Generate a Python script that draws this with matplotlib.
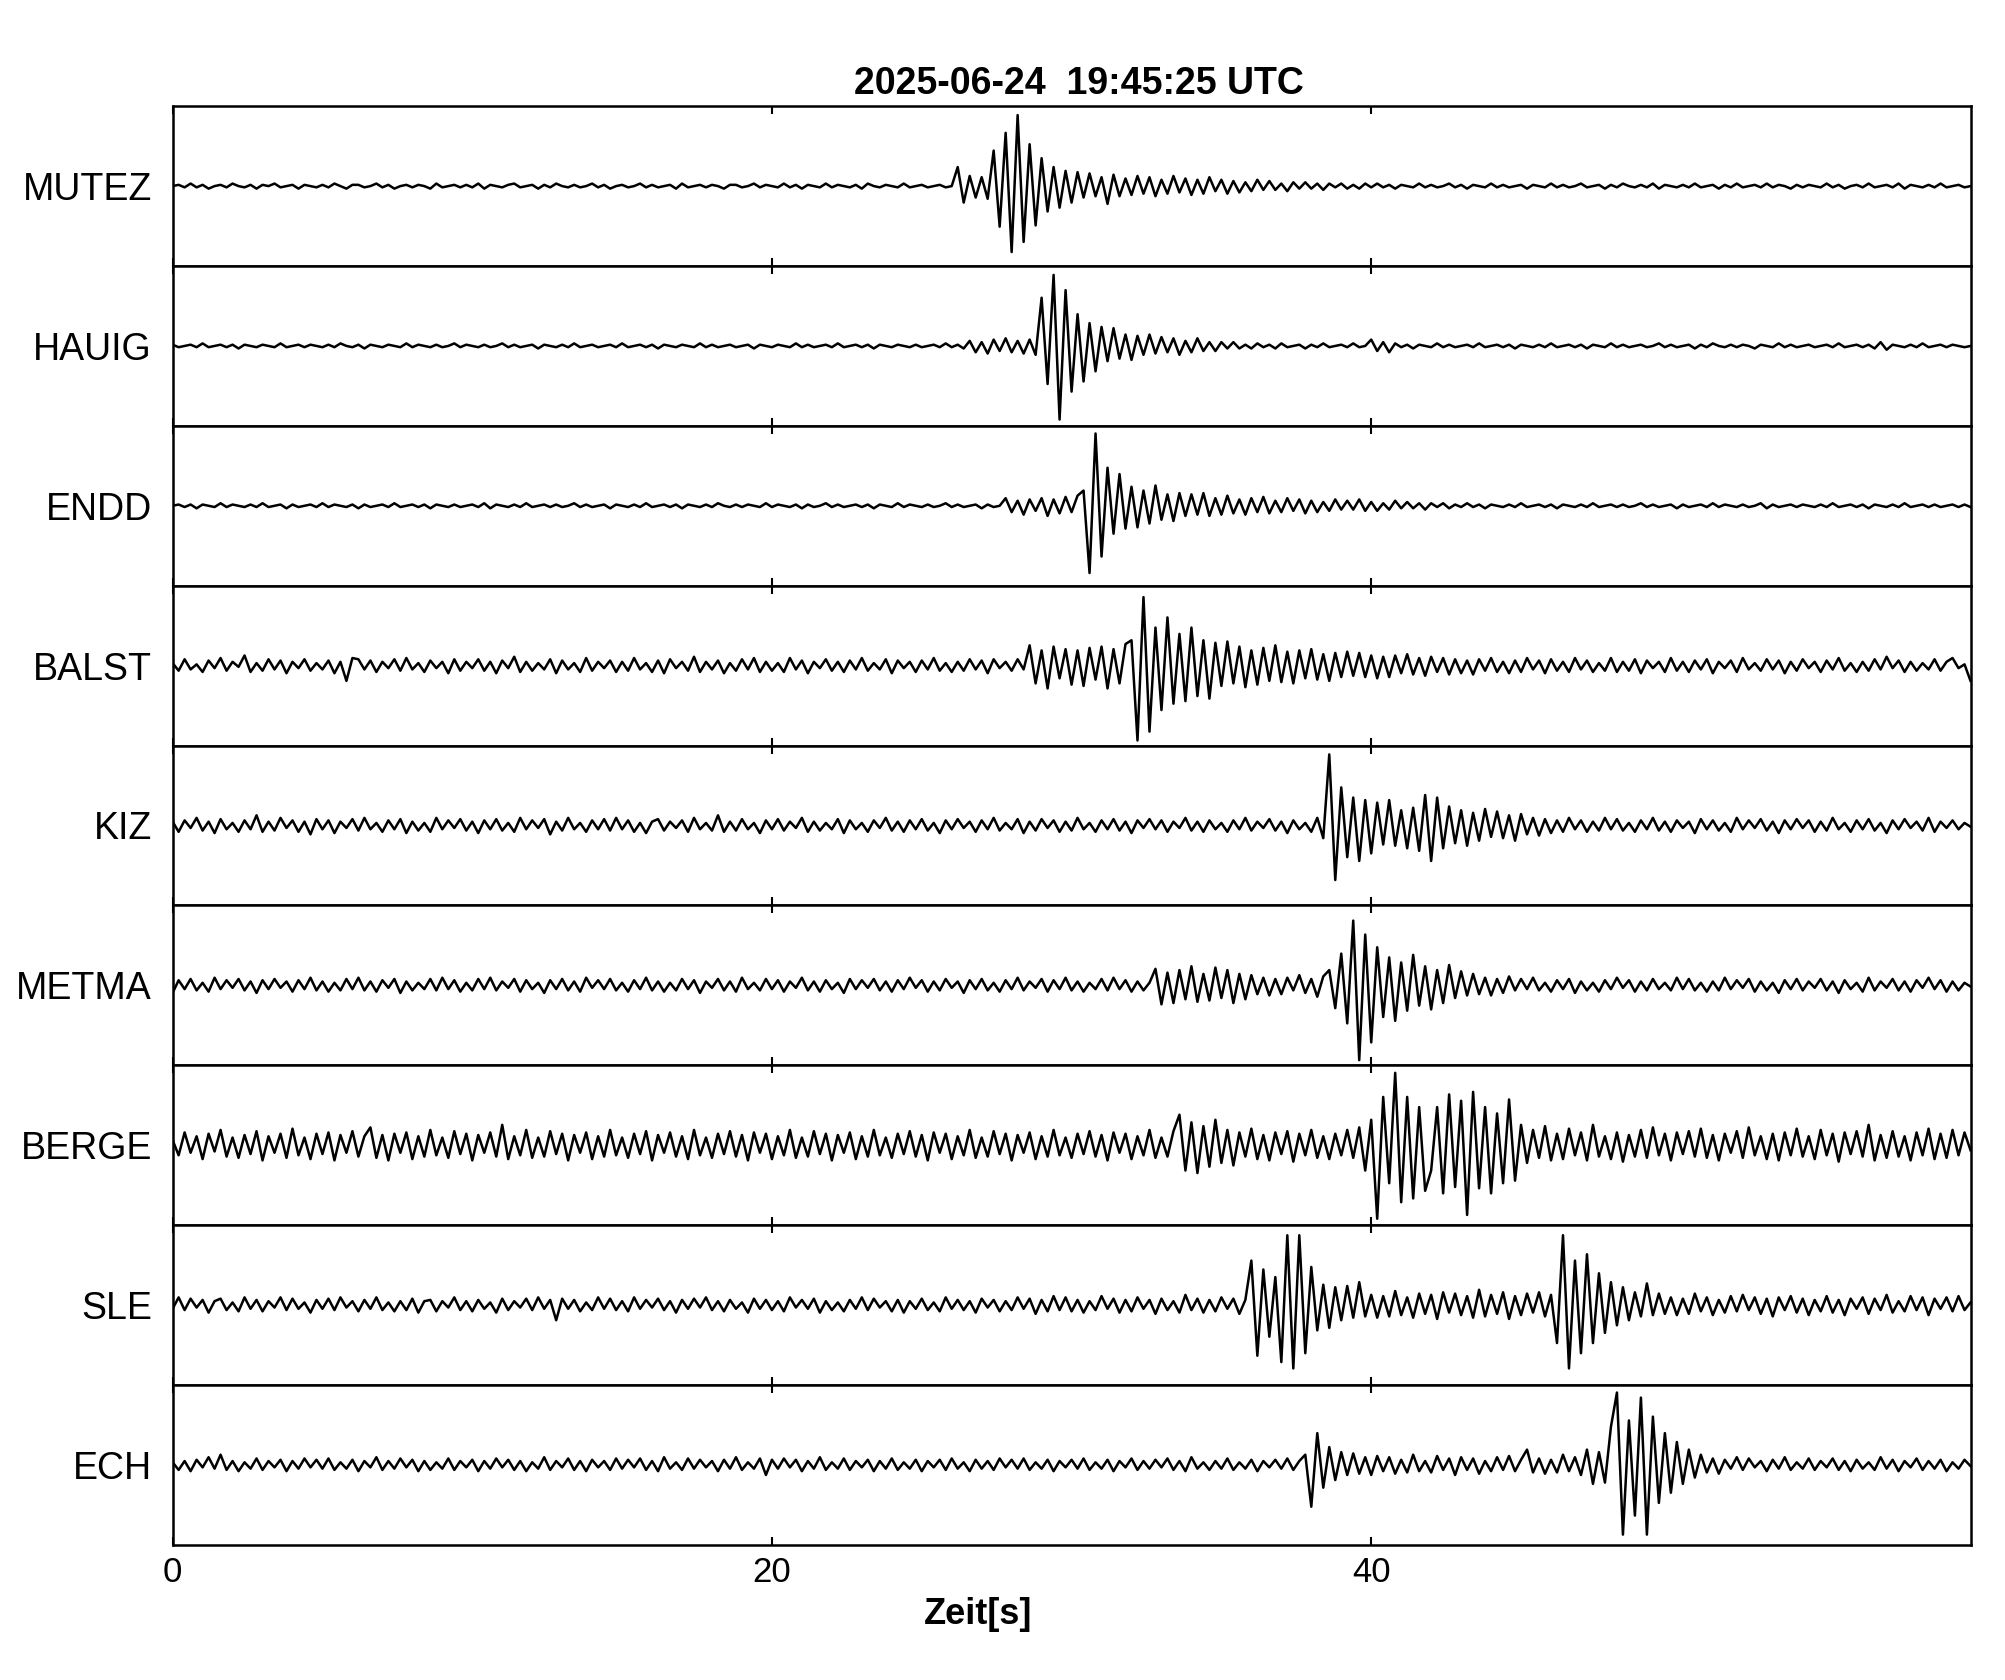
import numpy as np
import matplotlib.pyplot as plt

plt.rcParams['font.family'] = ['Liberation Sans', 'DejaVu Sans']

# sample spacing of the hand-read traces (s), amplitudes in screen-ish units
DT = 0.2
stations = ['MUTEZ', 'HAUIG', 'ENDD', 'BALST', 'KIZ', 'METMA', 'BERGE', 'SLE', 'ECH']
xticks = [0, 20, 40]

mutez = [0, 1, -1, 2, -1, 1, -2, 0, 1, -1, 2, 0, -1, 1, -2, 1, 0, 2, -1, 0, 1, -2, 1, 0, -1,
         1, -1, 2, 0, -2, 1, 1, -1, 0, 2, -1, 1, -2, 0, 1, -1, 1, 0, -2, 2, -1, 0, 1, -1, 1,
         -1, 2, -2, 1, 0, -1, 1, 2, -1, 0, 1, -2, 1, -1, 2, 0, -1, 1, -1, 0, 2, -1, 1, -2, 0,
         1, -1, 0, 2, -1, 1, -1, 0, 1, -2, 2, -1, 0, 1, -1, 1, 0, -2, 1, 1, -1, 0, 2, -1, 1,
         0, -1, 2, -1, 1, -2, 1, 0, -1, 2, -1, 1, 0, -1, 1, -2, 2, 0, -1, 1, 0, -1, 2, -1, 0,
         1, -1, 0, 1, -1, 0, 15, -13, 8, -9, 7, -10, 28, -32, 42, -52, 56, -44, 33, -31, 22, -20, 15, -17, 12,
         -13, 11, -9, 10, -8, 7, -14, 9, -8, 6, -7, 8, -6, 7, -8, 5, -6, 8, -5, 6, -7, 5, -6, 7, -4,
         5, -6, 4, -5, 3, -4, 5, -3, 4, -3, 2, -4, 3, -2, 3, -2, 2, -3, 2, -1, 2, -2, 1, -2, 2,
         -1, 2, -1, 1, -2, 1, 0, -1, 2, -1, 1, -1, 0, 2, -1, 1, -2, 1, 0, -1, 2, -1, 1, -1, 0,
         1, -2, 1, 0, -1, 2, -1, 1, -1, 0, 2, -1, 0, 1, -2, 1, -1, 2, 0, -1, 1, -1, 2, -2, 1,
         0, -1, 1, -1, 2, -1, 0, 1, -2, 1, -1, 2, -1, 0, 1, -1, 2, -1, 1, 0, -2, 1, -1, 1, 0,
         -1, 2, -1, 1, -2, 0, 1, -1, 2, -1, 0, 1, -1, 2, -2, 1, 0, -1, 1, -1, 2, -1, 0, 1, -1,
         0]

hauig = [1, -1, 0, 1, -1, 2, -1, 0, 1, -1, 1, -2, 1, 0, -1, 1, 0, -1, 2, -1, 0, 1, -1, 1, 0,
         -1, 1, -1, 2, 0, -1, 1, -2, 1, 0, -1, 1, 0, -1, 2, -1, 1, 0, -1, 1, -1, 0, 2, -1, 1,
         0, -1, 1, -1, 0, 2, -1, 1, -1, 0, 1, -2, 1, 0, -1, 1, -1, 2, -1, 0, 1, -1, 0, 1, -1,
         2, -1, 0, 1, -1, 1, -2, 1, 0, -1, 1, 0, -1, 2, -1, 1, -1, 0, 1, -1, 0, 1, -2, 1, 0,
         -1, 1, 0, -1, 2, -1, 1, -1, 0, 1, -1, 2, -1, 0, 1, -1, 1, -2, 1, 0, -1, 1, 0, -1, 1,
         -1, 0, 1, -1, 2, -1, 1, -2, 4, -5, 3, -6, 5, -4, 6, -5, 4, -6, 5, -7, 38, -30, 56, -58, 44,
         -36, 25, -28, 18, -20, 15, -12, 14, -10, 9, -11, 8, -7, 9, -6, 7, -5, 6, -7, 4, -5, 6, -4, 3, -4,
         3, -2, 3, -2, 1, -2, 2, -1, 1, -2, 2, -1, 0, 1, -2, 1, -1, 2, -1, 0, 1, -1, 2, -1, 0,
         5, -4, 3, -5, 2, -1, 1, -2, 1, 0, -1, 2, -1, 1, -1, 0, 1, -1, 2, -1, 0, 1, -1, 1, -2,
         1, 0, -1, 1, -1, 2, -1, 0, 1, -1, 1, -2, 1, 0, -1, 2, -1, 1, -1, 0, 1, -1, 0, 2, -1,
         1, -1, 0, 1, -2, 1, -1, 2, 0, -1, 1, -1, 1, 0, -2, 1, 0, -1, 2, -1, 1, -1, 0, 1, -1,
         0, 1, -1, 2, -1, 0, 1, -1, 1, -2, 3, -3, 1, 0, -1, 1, -1, 2, -1, 0, 1, -1, 1, 0, -1,
         0]

endd = [0, 1, -1, 1, -2, 1, 0, -1, 2, -1, 1, 0, -1, 1, -1, 2, -1, 0, 1, -2, 1, -1, 0, 1, -1,
        2, -1, 1, 0, -1, 1, -2, 1, -1, 0, 1, -1, 2, -1, 0, 1, -1, 1, -2, 1, 0, -1, 1, -1, 0,
        1, -1, 2, -2, 1, 0, -1, 1, -1, 2, -1, 0, 1, -1, 1, -1, 0, 2, -1, 1, -1, 0, 1, -2, 1,
        0, -1, 1, -1, 2, -1, 0, 1, -1, 1, -2, 1, 0, -1, 1, -1, 2, 0, -1, 1, -1, 1, 0, -1, 2,
        -1, 1, 0, -1, 1, -2, 1, -1, 0, 2, -1, 1, -1, 0, 1, -1, 1, -2, 1, 0, -1, 2, -1, 1, 0,
        -1, 1, -1, 0, 2, -1, 1, -1, 0, 1, -2, 1, -1, 0, 6, -5, 4, -7, 5, -4, 6, -8, 5, -6, 7,
        -5, 8, 12, -53, 57, -40, 30, -22, 25, -18, 15, -17, 12, -14, 16, -11, 9, -12, 10, -8, 9, -7, 10, -8, 6,
        -7, 8, -6, 5, -7, 6, -5, 7, -6, 4, -5, 6, -4, 5, -6, 4, -5, 3, -4, 5, -3, 4, -3, 5, -4,
        3, -4, 2, -3, 4, -2, 3, -2, 2, -3, 2, -1, 2, -2, 1, -1, 2, -1, 1, -2, 1, 0, -1, 1, -1,
        2, -1, 0, 1, -1, 1, -2, 1, 0, -1, 1, -1, 2, -1, 0, 1, -1, 1, -1, 0, 2, -1, 1, -1, 0,
        1, -2, 1, -1, 0, 1, -1, 2, -1, 1, 0, -1, 1, -1, 0, 2, -2, 1, -1, 0, 1, -1, 1, 0, -1,
        1, -1, 2, -1, 0, 1, -1, 1, -2, 1, 0, -1, 1, -1, 2, -1, 0, 1, -1, 1, -1, 0, 1, -1, 1,
        -1]

balst = [2, -4, 5, -3, 1, -5, 4, -2, 6, -4, 3, -1, 8, -5, 2, -4, 5, -3, 4, -6, 3, -2, 5, -4, 2,
         -3, 4, -6, 3, -12, 6, 5, -3, 4, -5, 3, -2, 5, -4, 6, -3, 2, -5, 4, -2, 3, -6, 5, -4, 3,
         -2, 5, -4, 3, -6, 4, -2, 7, -5, 3, -4, 2, -3, 5, -6, 4, -3, 2, -5, 6, -4, 3, -2, 4, -5,
         3, -4, 6, -3, 2, -5, 4, -6, 5, -2, 3, -4, 7, -5, 3, -3, 4, -6, 2, -4, 5, -3, 6, -5, 3,
         -4, 2, -5, 6, -3, 4, -6, 3, -2, 5, -4, 3, -5, 4, -3, 6, -4, 2, -3, 5, -6, 4, -2, 3, -5,
         4, -3, 6, -4, 2, -5, 3, -4, 5, -3, 4, -6, 5, -2, 3, -4, 5, -3, 16, -14, 12, -18, 15, -10, 13,
         -15, 12, -16, 14, -11, 15, -18, 13, -14, 17, 20, -59, 54, -52, 30, -35, 38, -30, 25, -28, 30, -24, 20, -26, 18,
         -16, 19, -14, 15, -17, 12, -15, 14, -12, 16, -13, 11, -14, 12, -10, 13, -11, 9, -12, 10, -9, 11, -8, 10, -9,
         8, -10, 7, -9, 8, -6, 9, -7, 6, -8, 7, -5, 6, -7, 5, -6, 4, -7, 5, -4, 6, -5, 3, -6, 4,
         -5, 6, -3, 4, -6, 5, -4, 3, -5, 6, -3, 4, -5, 2, -4, 6, -5, 3, -4, 5, -6, 4, -2, 3, -5,
         6, -4, 3, -5, 4, -3, 5, -6, 3, -2, 4, -5, 6, -3, 2, -4, 5, -3, 4, -6, 3, -4, 5, -2, 3,
         -5, 4, -3, 6, -4, 2, -5, 3, -4, 5, -3, 7, -2, 4, -5, 3, -4, 2, -3, 5, -4, 3, 6, -2, 1,
         -12]

kiz = [3, -5, 4, -2, 6, -4, 3, -6, 5, -3, 2, -5, 4, -3, 8, -5, 3, -4, 6, -2, 4, -5, 3, -7, 5,
       -3, 4, -6, 3, -2, 5, -4, 6, -3, 2, -5, 4, -3, 5, -6, 3, -4, 2, -5, 6, -3, 4, -2, 5, -4,
       3, -6, 4, -3, 5, -4, 2, -5, 6, -3, 4, -2, 5, -7, 3, -4, 6, -3, 2, -5, 4, -3, 5, -4, 6,
       -3, 4, -5, 2, -6, 3, 5, -4, 3, -2, 4, -5, 6, -3, 2, -4, 8, -5, 3, -4, 5, -3, 2, -6, 4,
       -3, 5, -4, 3, -2, 6, -5, 3, -4, 2, -3, 5, -6, 4, -3, 2, -5, 4, -2, 6, -4, 3, -5, 4, -3,
       5, -4, 2, -6, 4, -3, 5, -2, 3, -5, 4, -3, 6, -4, 2, -3, 5, -6, 3, -4, 5, -2, 4, -5, 3,
       -4, 6, -3, 2, -5, 4, -3, 5, -4, 3, -6, 4, -2, 5, -3, 4, -5, 3, -2, 6, -4, 3, -5, 4, -3,
       2, -5, 4, -3, 6, -4, 3, -2, 5, -4, 3, -6, 4, -3, 2, -5, 6, -10, 56, -43, 30, -25, 22, -28, 20,
       -22, 18, -15, 20, -16, 12, -18, 14, -20, 24, -28, 22, -18, 15, -14, 12, -16, 10, -12, 13, -9, 11, -10, 8, -12,
       9, -7, 6, -8, 5, -6, 4, -5, 6, -3, 4, -5, 3, -4, 6, -3, 5, -4, 2, -5, 4, -3, 6, -4, 3,
       -5, 4, -2, 3, -6, 5, -3, 4, -4, 2, -5, 6, -3, 4, -2, 5, -4, 3, -6, 4, -3, 5, -2, 4, -5,
       3, -4, 6, -3, 2, -5, 4, -3, 5, -4, 2, -6, 4, -3, 5, -2, 3, -4, 6, -5, 3, -2, 4, -3, 2,
       -1]

metma = [-6, 4, -3, 5, -4, 2, -5, 6, -3, 4, -2, 5, -4, 3, -6, 4, -3, 5, -2, 3, -5, 4, -3, 6, -4,
         3, -5, 2, -4, 5, -3, 6, -4, 3, -5, 4, -2, 5, -6, 3, -4, 2, -3, 5, -4, 6, -3, 4, -5, 2,
         -4, 5, -3, 6, -4, 3, -2, 5, -5, 4, -3, 2, -6, 4, -3, 5, -4, 3, -5, 6, -2, 4, -3, 5, -4,
         2, -5, 4, -3, 6, -4, 3, -5, 2, -4, 5, -3, 4, -6, 3, -2, 5, -4, 3, -5, 6, -3, 2, -4, 5,
         -3, 4, -5, 3, -2, 6, -4, 3, -5, 4, -3, 2, -6, 5, -3, 4, -2, 5, -4, 3, -5, 4, -3, 6, -2,
         4, -5, 3, -4, 5, -2, 3, -6, 4, -3, 5, -4, 2, -5, 4, -3, 6, -4, 3, -2, 5, -5, 4, -3, 6,
         -4, 3, -5, 2, -3, 5, -4, 6, -3, 4, -5, 3, -4, 2, 13, -15, 10, -14, 12, -11, 15, -13, 9, -12, 14,
         -10, 12, -14, 9, -11, 8, -7, 6, -8, 5, -7, 6, -4, 8, -6, 5, -9, 7, 12, -18, 25, -30, 51, -59, 40,
         -45, 30, -25, 22, -28, 18, -20, 24, -16, 15, -19, 12, -14, 16, -10, 11, -8, 9, -7, 6, -8, 5, -6, 7, -4,
         5, -3, 6, -4, 2, -5, 4, -3, 5, -6, 3, -4, 2, -5, 4, -3, 6, -2, 4, -5, 3, -4, 5, -3, 2,
         -4, 6, -3, 5, -4, 2, -5, 3, -4, 6, -3, 4, -2, 5, -5, 3, -4, 2, -6, 4, -3, 5, -4, 3, -2,
         5, -4, 3, -6, 4, -3, 2, -5, 6, -4, 3, -2, 5, -4, 3, -5, 4, -2, 6, -3, 4, -5, 3, -4, 2,
         -1]

berge = [4, -8, 10, -6, 7, -11, 9, -5, 12, -9, 6, -10, 8, -7, 11, -12, 7, -6, 9, -10, 13, -8, 6, -11, 9,
         -7, 10, -12, 8, -6, 11, -9, 7, 14, -10, 8, -12, 9, -6, 10, -11, 7, -9, 12, -8, 6, -10, 11, -7, 9,
         -12, 8, -6, 10, -9, 16, -11, 7, -8, 12, -10, 6, -9, 11, -7, 9, -12, 8, -6, 10, -11, 7, -9, 12, -8,
         6, -10, 9, -7, 11, -12, 8, -6, 10, -9, 7, -11, 12, -8, 6, -10, 9, -7, 11, -9, 8, -12, 10, -6, 9,
         -11, 7, -8, 12, -10, 6, -9, 11, -7, 9, -12, 8, -6, 10, -11, 7, -9, 12, -8, 6, -10, 9, -7, 11, -9,
         8, -12, 10, -6, 9, -11, 7, -8, 12, -10, 6, -9, 11, -7, 9, -12, 8, -6, 10, -11, 7, -9, 12, -8, 6,
         -10, 9, -7, 11, -9, 8, -12, 10, -6, 9, -11, 7, -8, 12, -10, 6, -9, 11, 24, -20, 18, -22, 15, -17, 20,
         -14, 12, -16, 10, -9, 13, -11, 8, -12, 10, -7, 11, -13, 9, -8, 12, -10, 7, -11, 9, -8, 12, -10, 14, -20,
         20, -58, 38, -30, 57, -45, 38, -42, 30, -36, -20, 30, -38, 40, -33, 35, -55, 42, -34, 30, -38, 25, -30, 36, -28,
         16, -14, 12, -10, 15, -12, 9, -11, 13, -8, 10, -12, 16, -9, 7, -11, 10, -13, 8, -9, 12, -10, 14, -8, 9,
         -12, 10, -7, 11, -9, 13, -10, 8, -12, 9, -6, 11, -10, 14, -8, 7, -11, 9, -12, 10, -8, 13, -9, 7, -11,
         12, -8, 9, -13, 10, -7, 11, -9, 16, -12, 8, -10, 11, -9, 7, -12, 10, -8, 13, -11, 9, -10, 12, -8, 10,
         -4]

sle = [-3, 6, -4, 5, -2, 4, -6, 3, 5, -4, 2, -5, 6, -3, 4, -5, 3, -2, 6, -4, 5, -3, 2, -6, 4,
       -3, 5, -4, 6, -2, 3, -5, 4, -3, 6, -4, 2, -5, 3, -4, 5, -6, 3, 4, -5, 3, -2, 6, -4, 3,
       -5, 4, -3, 2, -6, 5, -4, 3, -2, 5, -4, 6, -3, 4, -12, 5, -3, 4, -5, 2, -4, 6, -3, 5, -4,
       3, -5, 6, -3, 4, -2, 5, -4, 3, -6, 4, -3, 5, -2, 6, -4, 3, -5, 4, -3, 2, -6, 5, -3, 4,
       -4, 3, -5, 6, -2, 4, -3, 5, -6, 3, -4, 2, -5, 4, -3, 6, -4, 5, -2, 3, -5, 4, -6, 3, -3,
       5, -4, 2, -5, 6, -3, 4, -4, 3, -6, 5, -2, 4, -5, 3, -4, 6, -3, 5, -7, 4, -5, 7, -4, 6,
       -5, 4, -6, 3, -4, 7, -3, 5, -6, 4, -5, 6, -3, 4, -7, 5, -4, 3, -6, 8, -4, 5, -6, 4, -5,
       6, -3, 5, -7, 4, 35, -40, 28, -25, 22, -45, 55, -50, 55, -38, 30, -20, 16, -18, 14, -12, 15, -10, 18, -9,
       8, -10, 7, -9, 11, -8, 6, -10, 9, -7, 8, -11, 10, -6, 9, -8, 7, -10, 12, -9, 8, -7, 10, -11, 7,
       -8, 9, -6, 10, -9, 8, -30, 55, -50, 35, -38, 40, -30, 25, -22, 18, -16, 14, -12, 10, -9, 17, -8, 9, -7,
       6, -8, 5, -7, 9, -5, 6, -8, 4, -6, 7, -5, 8, -4, 6, -7, 5, -9, 6, -4, 7, -6, 5, -8, 4,
       -5, 7, -6, 4, -8, 5, -3, 6, -7, 5, -4, 8, -6, 3, -5, 7, -4, 6, -8, 5, -3, 6, -5, 7, -4,
       2]

ech = [2, -4, 3, -5, 4, -2, 6, -3, 8, -4, 3, -5, 2, -3, 5, -4, 3, -2, 4, -5, 3, -3, 5, -2, 4,
       -3, 5, -4, 2, -3, 4, -5, 3, -2, 6, -4, 3, -3, 5, -2, 4, -5, 3, -4, 2, -3, 5, -4, 3, -2,
       4, -5, 3, -3, 5, -2, 4, -4, 3, -5, 2, -3, 6, -4, 3, -2, 5, -4, 3, -5, 4, -2, 3, -4, 5,
       -3, 4, -2, 5, -4, 3, -5, 6, -3, 2, -4, 5, -3, 4, -2, 3, -5, 4, -3, 6, -4, 2, -3, 5, -8,
       4, -3, 5, -2, 4, -5, 3, -3, 6, -4, 2, -3, 5, -4, 3, -2, 4, -5, 3, -3, 5, -4, 2, -3, 4,
       -5, 3, -2, 4, -4, 5, -3, 2, -5, 4, -3, 3, -4, 5, -2, 4, -3, 5, -4, 2, -3, 4, -5, 3, -2,
       4, -3, 5, -4, 2, -3, 4, -5, 3, -2, 5, -4, 3, -3, 4, -2, 5, -4, 3, -5, 6, -3, 2, -4, 3,
       -3, 5, -4, 2, -3, 4, -5, 3, -2, 4, -3, 5, -4, 3, 8, -33, 25, -18, 14, -12, 10, -8, 9, -7, 6,
       -8, 7, -5, 6, -7, 4, -6, 8, -5, 3, -6, 7, -4, 5, -8, 6, -4, 5, -7, 3, -5, 6, -4, 7, -5,
       4, 12, -6, 5, -7, 4, -6, 8, -5, 6, -8, 12, -15, 10, -14, 30, 57, -55, 35, -40, 53, -55, 38, -30, 25,
       -22, 18, -15, 12, -10, 8, -6, 5, -7, 4, -3, 6, -4, 5, -2, 3, -5, 4, -3, 6, -4, 2, -3, 5, -4,
       3, -2, 5, -4, 3, -5, 4, -3, 2, -4, 6, -3, 4, -5, 3, -2, 5, -4, 3, -3, 4, -5, 2, -3, 4,
       -1]

traces = [mutez, hauig, endd, balst, kiz, metma, berge, sle, ech]

fig = plt.figure(figsize=(20.05, 16.8), dpi=100)
left, right, top, bottom = 0.0861, 0.9828, 0.9368, 0.0805
h = (top - bottom) / len(stations)

for k, (name, y) in enumerate(zip(stations, traces)):
    ax = fig.add_axes([left, top - (k + 1) * h, right - left, h])
    t = np.arange(len(y)) * DT
    ax.plot(t, y, color='black', lw=1.8)
    ax.set_xlim(0, 60)
    ax.set_ylim(-63, 63)
    ax.set_yticks([])
    ax.set_xticks(xticks)
    last = k == len(stations) - 1
    ax.tick_params(axis='x', direction='in', top=True, bottom=True, length=6,
                   width=1.5, labelbottom=last, labelsize=25, pad=8)
    for s in ax.spines.values():
        s.set_linewidth(1.8)
    ax.text(-0.0115, 0.475, name, transform=ax.transAxes, ha='right', va='center',
            fontsize=27)

fig.text(0.538, 0.950, '2025-06-24  19:45:25 UTC', ha='center', va='center',
         fontsize=27, fontweight='bold')
fig.text(0.4878, 0.0387, 'Zeit[s]', ha='center', va='center', fontsize=26,
         fontweight='bold')

fig.savefig('out.png', dpi=100)
